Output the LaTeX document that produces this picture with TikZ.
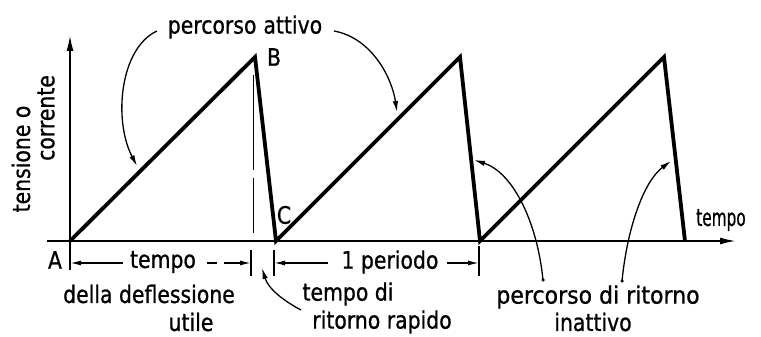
\documentclass[tikz,border=0pt]{standalone}
\usepackage{fontspec}
\setmainfont[FakeStretch=0.85,FakeBold=0.8]{DejaVu Sans}
\usetikzlibrary{arrows.meta}
\begin{document}
\begin{tikzpicture}[x=1pt,y=-1pt,
  lbl/.style={inner sep=0pt, font=\fontsize{24}{26}\selectfont},
  wave/.style={line width=3.8pt, line join=miter, line cap=butt},
  axis/.style={line width=1.8pt, -{Latex[length=16pt,width=7pt]}},
  dim/.style={line width=1.4pt, -{Latex[length=11pt,width=5pt]}},
  tick/.style={line width=1.3pt},
  callout/.style={line width=1.3pt, -{Latex[length=11pt,width=5.5pt]}},
  dot/.style={circle, fill, inner sep=0pt, minimum size=3.5pt}]
\useasboundingbox (0,0) rectangle (761,337);
\fill[white] (0,0) rectangle (761,337);
% axes
\coordinate (vbot) at (70,270);
\coordinate (vtop) at (70,35);
\coordinate (hl) at (47,241);
\coordinate (hr) at (736,241);
\draw[axis] (vbot) -- (vtop);
\draw[axis] (hl) -- (hr);
% sawtooth
\coordinate (A0) at (70,241);
\coordinate (P1) at (255,57);
\coordinate (C1) at (276,241);
\coordinate (P2) at (460,57);
\coordinate (C2) at (480,241);
\coordinate (P3) at (664,57);
\coordinate (C3) at (685,241);
\draw[wave] (A0) -- (P1) -- (C1) -- (P2) -- (C2) -- (P3) -- (C3);
% thin broken vertical
\coordinate (d1) at (253,75);
\coordinate (d2) at (253,170);
\coordinate (d3) at (253,178);
\coordinate (d4) at (253,233);
\draw[line width=1pt] (d1) -- (d2);
\draw[line width=1pt] (d3) -- (d4);
% labels
\node[lbl] (pa) at (245,27) {percorso\hspace{7pt}attivo};
\node[lbl] (B) at (274,57) {B};
\node[lbl] (C) at (284,215) {C};
\node[lbl] (A) at (55,260) {A};
\node[lbl] (tax) at (721,220) {\scalebox{0.75}[1]{tempo}};
\node[lbl, rotate=90] (yl1) at (21,159) {tensione o};
\node[lbl, rotate=90] (yl2) at (46,118) {corrente};
\node[lbl] (t1) at (163,262) {tempo};
\node[lbl] (t2) at (149,294) {della deflessione};
\node[lbl] (t3) at (191,322) {utile};
\node[lbl] (per) at (390,262) {1 periodo};
\node[lbl] (r1) at (348,294) {tempo di};
\node[lbl] (r2) at (382,322) {ritorno rapido};
\node[lbl] (i1) at (598,297) {\scalebox{1.08}[1]{percorso di ritorno}};
\node[lbl] (i2) at (593,322) {inattivo};
% dimension lines
\coordinate (a1s) at (123,263); \coordinate (a1e) at (70,263);
\draw[dim] (a1s) -- (a1e);
\coordinate (a2a) at (207,263); \coordinate (a2b) at (217,263);
\draw[line width=1.4pt] (a2a) -- (a2b);
\coordinate (a2s) at (224,263); \coordinate (a2e) at (251,263);
\draw[dim] (a2s) -- (a2e);
\coordinate (k1a) at (251,250); \coordinate (k1b) at (251,276);
\coordinate (k2a) at (274,250); \coordinate (k2b) at (274,276);
\draw[tick] (k1a) -- (k1b);
\draw[tick] (k2a) -- (k2b);
\coordinate (a3s) at (328,263); \coordinate (a3e) at (274,263);
\draw[dim] (a3s) -- (a3e);
\coordinate (a4s) at (447,263); \coordinate (a4e) at (479,263);
\draw[dim] (a4s) -- (a4e);
\coordinate (k3a) at (479,246); \coordinate (k3b) at (479,276);
\draw[tick] (k3a) -- (k3b);
% callouts
\coordinate (pl0) at (157,31); \coordinate (pl1) at (137,166);
\draw[callout] (pl0) .. controls (120,48) and (113,120) .. (pl1);
\coordinate (pr0) at (334,31); \coordinate (pr1) at (397,112);
\draw[callout] (pr0) .. controls (372,38) and (392,78) .. (pr1);
\coordinate (rr0) at (301,310); \coordinate (rr1) at (262,268);
\draw[callout] (rr0) .. controls (282,300) and (268,288) .. (rr1);
\node[dot] (dl) at (543,280) {};
\node[dot] (dr) at (622,281) {};
\coordinate (il1) at (474,160);
\coordinate (ir1) at (671,161);
\draw[callout] (dl.center) .. controls (537,220) and (512,172) .. (il1);
\draw[callout] (dr.center) .. controls (627,230) and (643,182) .. (ir1);
\end{tikzpicture}
\end{document}
